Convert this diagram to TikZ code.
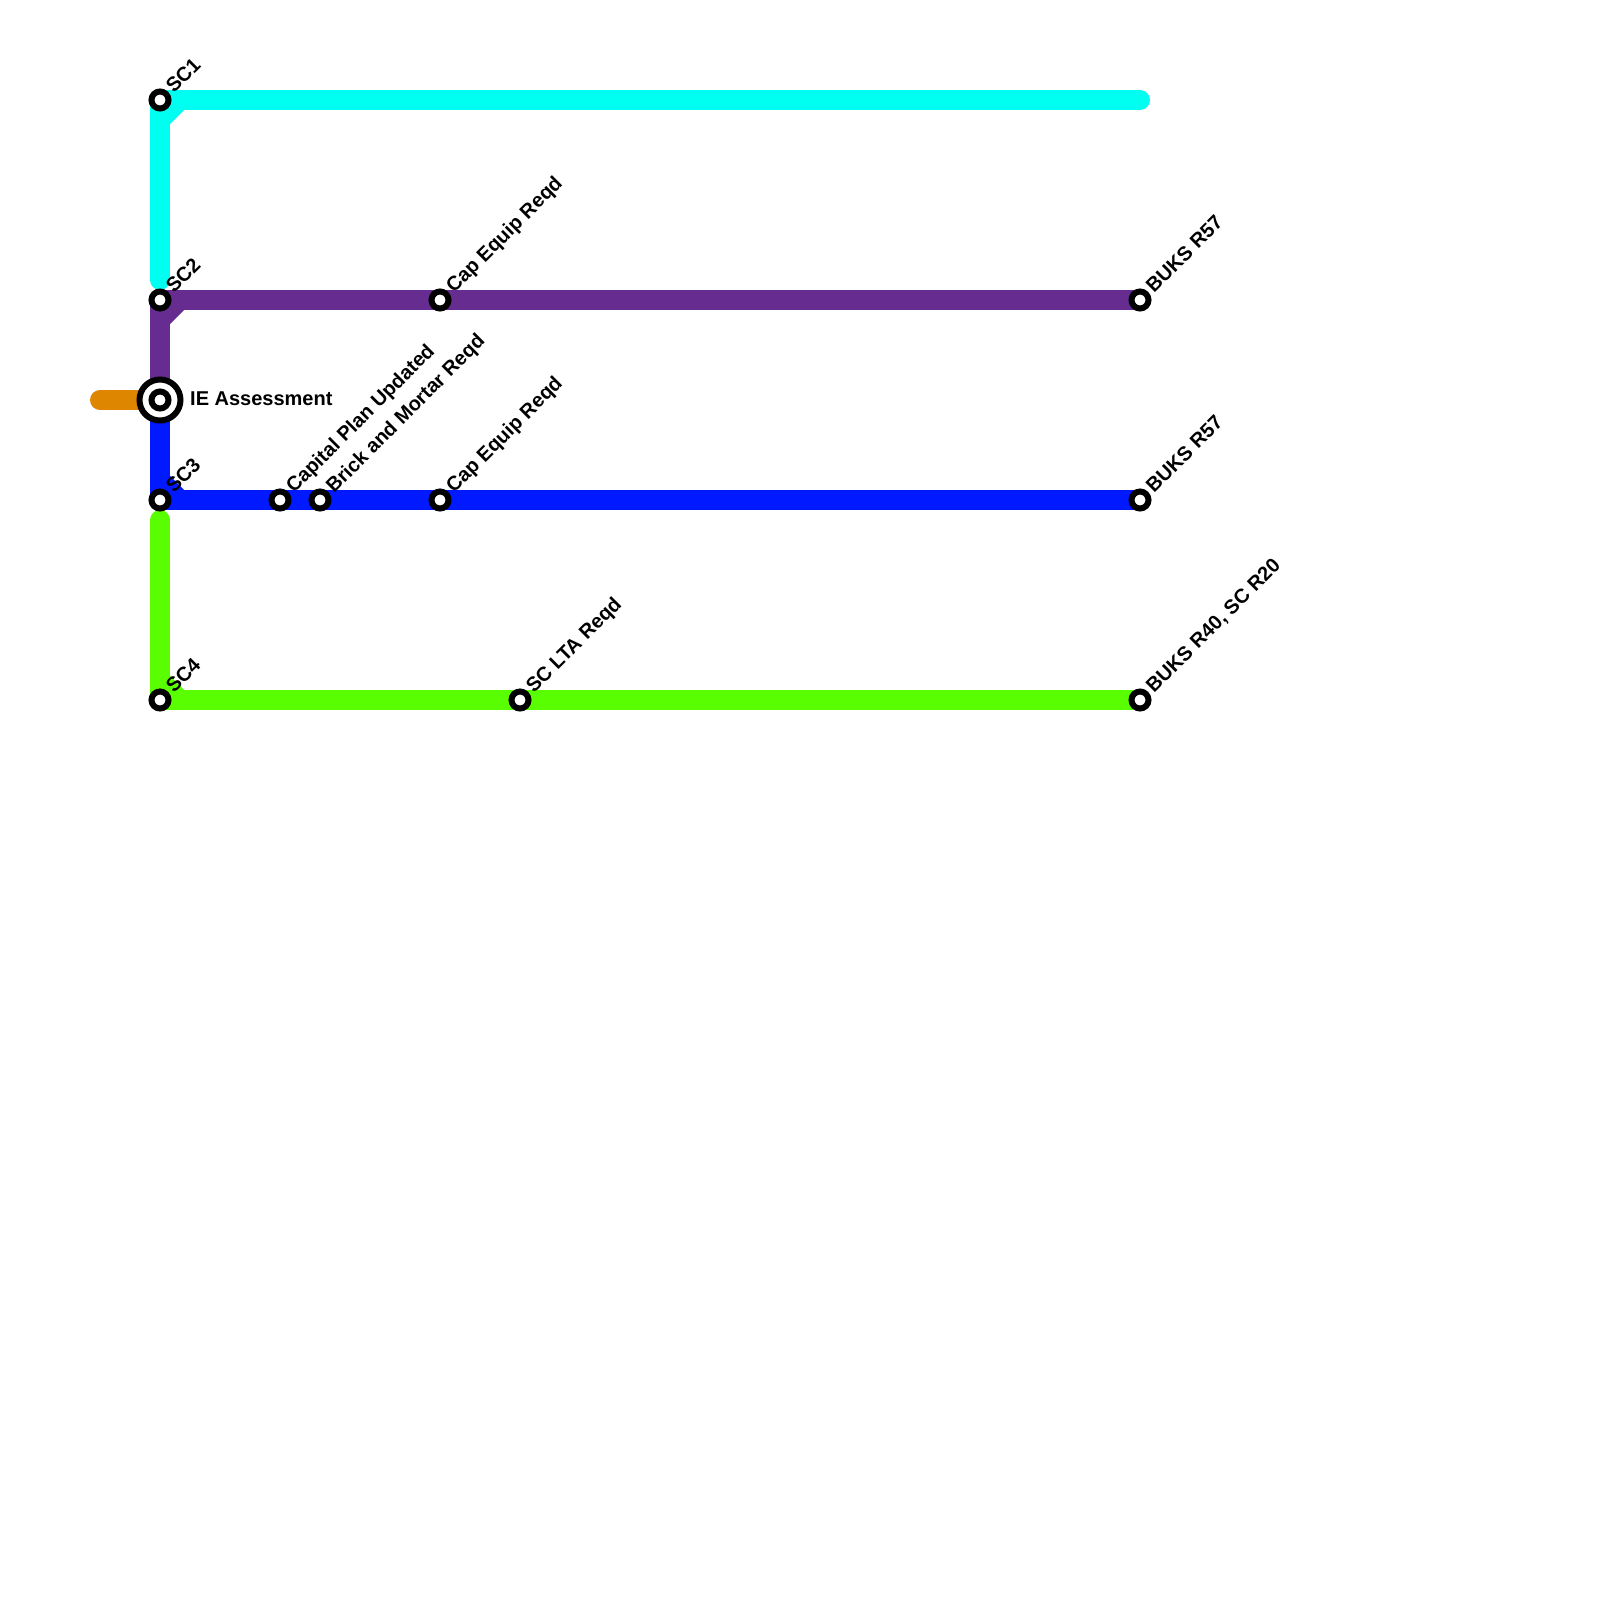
\documentclass[tikz,border=0pt]{standalone}
\usepackage{fontspec}
\setmainfont{Liberation Sans}
\usetikzlibrary{positioning}
\pgfdeclarelayer{background}
\pgfsetlayers{background,main}

\definecolor{linecyan}{HTML}{00FFF0}
\definecolor{linepurple}{HTML}{662C90}
\definecolor{lineblue}{HTML}{0019FF}
\definecolor{linegreen}{HTML}{59FF00}
\definecolor{lineorange}{HTML}{DF8600}

\begin{document}
\begin{tikzpicture}[
    x=1pt, y=-1pt,
    metroline/.style={line width=20pt, line cap=round, line join=round},
    stopnode/.style={
        circle, draw=black, fill=white, line width=6pt, inner sep=0pt, minimum size=17pt
      },
    bigstop/.style={
        circle, draw=black, fill=white, line width=6pt, inner sep=0pt, minimum size=41pt
      },
    stoplabel/.style={
        rotate=45, anchor=base west, inner sep=0pt, font=\fontsize{20}{20}\selectfont\bfseries
      },
  ]
  \useasboundingbox (0,0) rectangle (1600,1600);
  % line ends and bends
  \coordinate (cyanEnd) at (1140,100);
  \coordinate (cyanA) at (180,100);
  \coordinate (cyanB) at (160,120);
  \coordinate (cyanC) at (160,280);
  \coordinate (purpleA) at (180,300);
  \coordinate (purpleB) at (160,320);
  \coordinate (blueA) at (160,480);
  \coordinate (blueB) at (180,500);
  \coordinate (greenA) at (160,680);
  \coordinate (greenB) at (180,700);
  \coordinate (greenStart) at (160,520);
  \coordinate (orangeStart) at (100,400);
  % stops
  \node[stopnode](SCone) at (160,100) {};
  \node[stopnode](SCtwo) at (160,300) {};
  \node[bigstop](IEring) at (160,400) {};
  \node[stopnode](IE) at (160,400) {};
  \node[stopnode](SCthree) at (160,500) {};
  \node[stopnode](SCfour) at (160,700) {};
  \node[stopnode](capPlan) at (280,500) {};
  \node[stopnode](brick) at (320,500) {};
  \node[stopnode](capTop) at (440,300) {};
  \node[stopnode](capLow) at (440,500) {};
  \node[stopnode](lta) at (520,700) {};
  \node[stopnode](buksA) at (1140,300) {};
  \node[stopnode](buksB) at (1140,500) {};
  \node[stopnode](buksC) at (1140,700) {};
  % lines
  \begin{pgfonlayer}{background}
    \fill[white] (0,0) rectangle (1600,1600);
    \draw[metroline, linecyan] (cyanEnd) -- (SCone.center) -- (cyanC);
    \draw[metroline, linecyan] (cyanA) -- (cyanB);
    \draw[metroline, linepurple] (buksA.center) -- (SCtwo.center) -- (IE.center);
    \draw[metroline, linepurple] (purpleA) -- (purpleB);
    \draw[metroline, lineorange] (orangeStart) -- (IE.center);
    \draw[metroline, lineblue] (buksB.center) -- (SCthree.center) -- (IE.center);
    \draw[metroline, lineblue] (blueA) -- (blueB);
    \draw[metroline, linegreen] (greenStart) -- (SCfour.center) -- (buksC.center);
    \draw[metroline, linegreen] (greenA) -- (greenB);
  \end{pgfonlayer}
  % labels
  \node[stoplabel](lSCone) at (174,94) {SC1};
  \node[stoplabel](lSCtwo) at (174,294) {SC2};
  \node[stoplabel](lSCthree) at (174,494) {SC3};
  \node[stoplabel](lSCfour) at (174,694) {SC4};
  \node[stoplabel](lPlan) at (294,494) {Capital Plan Updated};
  \node[stoplabel](lBrick) at (334,494) {Brick and Mortar Reqd};
  \node[stoplabel](lCapTop) at (454,294) {Cap Equip Reqd};
  \node[stoplabel](lCapLow) at (454,494) {Cap Equip Reqd};
  \node[stoplabel](lLta) at (534,694) {SC LTA Reqd};
  \node[stoplabel](lBuksA) at (1154,294) {BUKS R57};
  \node[stoplabel](lBuksB) at (1154,494) {BUKS R57};
  \node[stoplabel](lBuksC) at (1154,694) {BUKS R40, SC R20};
  \node[anchor=base west, inner sep=0pt, font=\fontsize{20}{20}\selectfont\bfseries](lIE) at (190,405) {IE Assessment};
\end{tikzpicture}
\end{document}
